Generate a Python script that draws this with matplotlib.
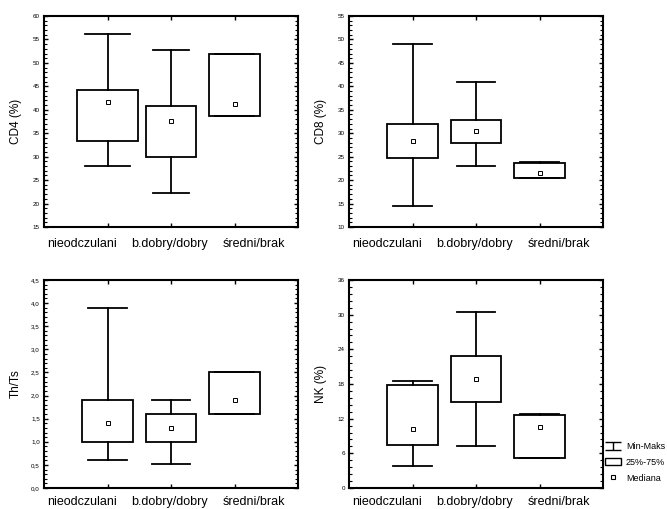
import matplotlib
matplotlib.use("Agg")
import matplotlib.pyplot as plt
from matplotlib.ticker import MultipleLocator, AutoMinorLocator, FuncFormatter
from matplotlib.lines import Line2D
from matplotlib.patches import Rectangle
from matplotlib.path import Path

plt.rcParams["font.family"] = ["Liberation Sans", "DejaVu Sans"]

grupy = ["nieodczulani", "b.dobry/dobry", "średni/brak"]

# min, q1, mediana, q3, max dla każdej grupy
cd4_min = [28.0, 22.3, 38.7]
cd4_q1 = [33.4, 29.9, 38.7]
cd4_med = [41.7, 37.6, 41.2]
cd4_q3 = [44.2, 40.8, 51.9]
cd4_max = [56.2, 52.7, 51.9]

cd8_min = [14.5, 23.1, 20.4]
cd8_q1 = [24.8, 28.0, 20.4]
cd8_med = [28.3, 30.4, 21.5]
cd8_q3 = [32.0, 32.9, 23.6]
cd8_max = [49.1, 41.0, 23.9]

thts_min = [0.60, 0.51, 1.60]
thts_q1 = [1.00, 1.00, 1.60]
thts_med = [1.40, 1.30, 1.90]
thts_q3 = [1.90, 1.60, 2.50]
thts_max = [3.90, 1.90, 2.50]

nk_min = [3.8, 7.3, 5.2]
nk_q1 = [7.5, 14.9, 5.2]
nk_med = [10.2, 18.9, 10.6]
nk_q3 = [17.9, 22.9, 12.6]
nk_max = [18.6, 30.4, 12.8]

# etykiety osi x rozsuniete jak w Statistica (nie dokladnie pod kreskami)
POZ_ETYKIET = [0.6, 1.97, 3.3]

paneles = [
    # (dane, etykieta y, ylim, krok, format, pozycja [l, b, w, h], szer. pudel, szer. wasow, pad)
    ((cd4_min, cd4_q1, cd4_med, cd4_q3, cd4_max), "CD4 (%)", (15, 60), 5, "{:.0f}",
     [44 / 667, 1 - 227 / 509, 254 / 667, 211 / 509], [0.95, 0.8, 0.8], [0.72, 0.58, 0.6], 8),
    ((cd8_min, cd8_q1, cd8_med, cd8_q3, cd8_max), "CD8 (%)", (10, 55), 5, "{:.0f}",
     [349 / 667, 1 - 227 / 509, 254 / 667, 211 / 509], [0.8, 0.8, 0.8], [0.62, 0.6, 0.6], 8),
    ((thts_min, thts_q1, thts_med, thts_q3, thts_max), "Th/Ts", (0, 4.5), 0.5, "{:.1f}",
     [44 / 667, 1 - 488 / 509, 254 / 667, 208 / 509], [0.8, 0.8, 0.8], [0.6, 0.6, 0.6], 6),
    ((nk_min, nk_q1, nk_med, nk_q3, nk_max), "NK (%)", (0, 36), 6, "{:.0f}",
     [349 / 667, 1 - 488 / 509, 254 / 667, 208 / 509], [0.8, 0.8, 0.8], [0.6, 0.6, 0.6], 6),
]

fig = plt.figure(figsize=(6.67, 5.09), dpi=100)

for dane, ylabel, ylim, krok, fmt, pos, szer, wasy, pad in paneles:
    ax = fig.add_axes(pos)
    mins, q1s, meds, q3s, maxs = dane
    stats = [
        dict(whislo=mn, q1=a, med=m, q3=b, whishi=mx, fliers=[])
        for mn, a, m, b, mx in zip(mins, q1s, meds, q3s, maxs)
    ]
    pozycje = list(range(1, len(grupy) + 1))
    ax.bxp(stats, positions=pozycje, widths=szer, capwidths=wasy,
           showfliers=False, patch_artist=True,
           boxprops=dict(facecolor="white", edgecolor="black", linewidth=1.3),
           whiskerprops=dict(color="black", linewidth=1.3),
           capprops=dict(color="black", linewidth=1.3),
           medianprops=dict(linewidth=0))
    ax.plot(pozycje, meds, linestyle="none", marker="s", markersize=3,
            markerfacecolor="white", markeredgecolor="black", markeredgewidth=0.7,
            zorder=5)

    ax.set_xlim(0, 4)
    ax.set_ylim(*ylim)
    ax.set_xticks(pozycje)
    ax.set_xticklabels([])
    ax.set_xticks(POZ_ETYKIET, minor=True)
    ax.set_xticklabels(grupy, minor=True, fontsize=9)
    ax.yaxis.set_major_locator(MultipleLocator(krok))
    ax.yaxis.set_minor_locator(AutoMinorLocator(5))
    ax.yaxis.set_major_formatter(FuncFormatter(lambda v, p, f=fmt: f.format(v).replace(".", ",")))
    ax.tick_params(axis="y", which="major", direction="in", length=3, width=1,
                   labelsize=4.5, right=True, pad=3)
    ax.tick_params(axis="y", which="minor", direction="in", length=2, width=0.8, right=True)
    ax.tick_params(axis="x", which="major", direction="in", length=3, width=1, top=True)
    ax.tick_params(axis="x", which="minor", length=0, pad=pad)
    for sp in ax.spines.values():
        sp.set_linewidth(1.5)
    ax.set_ylabel(ylabel, fontsize=8.5)
    ax.yaxis.set_label_coords(-0.088, 0.5)

# legenda: znak "min-maks" w ksztalcie wasow
znak_wasy = Path([(-1, 0.45), (1, 0.45), (0, 0.45), (0, -0.45), (-1, -0.45), (1, -0.45)],
                 [Path.MOVETO, Path.LINETO, Path.MOVETO, Path.LINETO, Path.MOVETO, Path.LINETO])
leg_handles = [
    Line2D([0], [0], linestyle="none", marker=znak_wasy, markersize=12,
           markerfacecolor="none", markeredgecolor="black", markeredgewidth=1),
    Rectangle((0, 0), 1, 1, facecolor="white", edgecolor="black", linewidth=1),
    Line2D([0], [0], linestyle="none", marker="s", markersize=3, markerfacecolor="white",
           markeredgecolor="black", markeredgewidth=0.8),
]
fig.legend(leg_handles, ["Min-Maks", "25%-75%", "Mediana"], loc="upper left",
           bbox_to_anchor=(605 / 667, 1 - 442 / 509), frameon=False, fontsize=6.5,
           handlelength=1.8, handleheight=0.9, handletextpad=0.5, labelspacing=0.75,
           borderaxespad=0, borderpad=0)

fig.savefig("out.png", dpi=100)
